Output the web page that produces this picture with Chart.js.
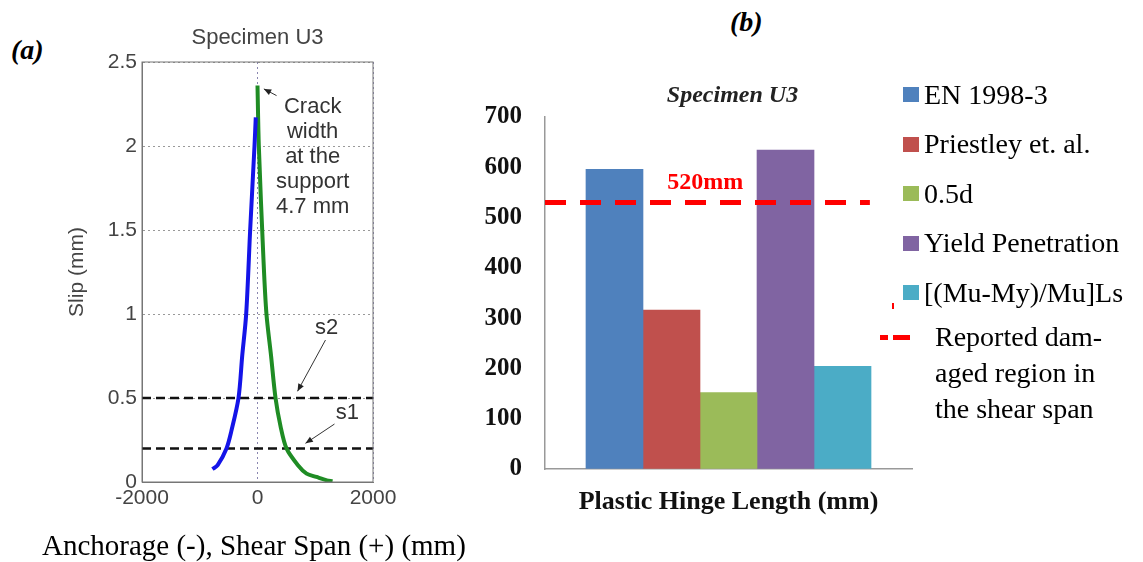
<!DOCTYPE html>
<html>
<head>
<meta charset="utf-8">
<script src="https://cdn.jsdelivr.net/npm/chart.js@4.4.0/dist/chart.umd.min.js"></script>
<style>
  body { margin: 0; width: 1143px; height: 562px; background: #fff; position: relative; overflow: hidden; font-family: "Liberation Serif", serif; }
  #slipChart { position: absolute; left: 0; top: 0; }
  #hingeChart { position: absolute; left: 440px; top: 0; }
  .tag { position: absolute; font: italic bold 28px "Liberation Serif", serif; color: #000; }
  #xlabelA { position: absolute; left: 42px; top: 531px; font: 29px "Liberation Serif", serif; line-height: 29px; color: #000; white-space: nowrap; }
  #legend { position: absolute; left: 903px; top: 70px; font: 28px "Liberation Serif", serif; color: #000; }
  #legend .row { height: 49.5px; display: flex; align-items: center; white-space: nowrap; }
  #legend .sw { width: 16px; height: 15px; margin-right: 5px; }
  #damLegend { position: absolute; left: 935px; top: 319px; font: 28px "Liberation Serif", serif; line-height: 36px; color: #000; white-space: nowrap; }
  .reddash { position: absolute; background: #ff0000; }
</style>
</head>
<body>
<div class="tag" style="left:11px; top:34px;">(a)</div>
<div class="tag" style="left:730px; top:6px;">(b)</div>
<canvas id="slipChart" width="440" height="562"></canvas>
<canvas id="hingeChart" width="480" height="562"></canvas>
<div id="xlabelA">Anchorage (-), Shear Span (+) (mm)</div>
<div id="legend"></div>
<div class="reddash" style="left:892px; top:303px; width:2px; height:6px;"></div>
<div class="reddash" style="left:880px; top:335px; width:8px; height:5px;"></div>
<div class="reddash" style="left:893px; top:335px; width:17px; height:5px;"></div>
<div id="damLegend">Reported dam-<br>aged region in<br>the shear span</div>

<script>
// (a) slip profile along the bar
const posTicks = [-2000, 0, 2000];
const slipTicks = [0, 0.5, 1, 1.5, 2, 2.5];

const anchorX    = [-780, -690, -537, -455, -329, -265, -196, -127, -52, -30];
const anchorSlip = [0.077, 0.10, 0.20, 0.30, 0.50, 0.75, 1.00, 1.50, 2.00, 2.17];

const shearX    = [0, 23, 104, 155, 235, 312, 400, 502, 700, 850, 1020, 1200, 1300];
const shearSlip = [2.36, 2.00, 1.32, 1.00, 0.75, 0.50, 0.33, 0.20, 0.10, 0.05, 0.03, 0.01, 0.005];

const s1Slip = 0.2;
const s2Slip = 0.5;

// (b) plastic hinge lengths
const methods = ['EN 1998-3', 'Priestley et. al.', '0.5d', 'Yield Penetration', '[(Mu-My)/Mu]Ls'];
const hingeLengths = [596, 316, 152, 634, 204];
const lengthTicks = [0, 100, 200, 300, 400, 500, 600, 700];
const damagedRegion = 530;
const damagedLabel = '520mm';

const methodColors = ['#4f81bd', '#c0504d', '#9bbb59', '#8064a2', '#4bacc6'];

const sans = '"Liberation Sans", Arial, sans-serif';
const serif = '"Liberation Serif", "Times New Roman", serif';

function arrow(ctx, x1, y1, x2, y2, head) {
  const a = Math.atan2(y2 - y1, x2 - x1);
  ctx.beginPath();
  ctx.moveTo(x1, y1);
  ctx.lineTo(x2, y2);
  ctx.stroke();
  ctx.beginPath();
  ctx.moveTo(x2, y2);
  ctx.lineTo(x2 - head * Math.cos(a - 0.4), y2 - head * Math.sin(a - 0.4));
  ctx.lineTo(x2 - head * Math.cos(a + 0.4), y2 - head * Math.sin(a + 0.4));
  ctx.closePath();
  ctx.fill();
}

// notes for the slip chart: frame, title, arrows
const slipNotes = {
  id: 'slipNotes',
  afterDraw(chart) {
    const {ctx, chartArea: a, scales: {x, y}} = chart;
    ctx.save();
    ctx.strokeStyle = '#777';
    ctx.lineWidth = 1;
    ctx.strokeRect(a.left, a.top, a.right - a.left, a.bottom - a.top);

    ctx.fillStyle = '#444';
    ctx.font = '22px ' + sans;
    ctx.textAlign = 'center';
    ctx.textBaseline = 'middle';
    ctx.fillText('Specimen U3', (a.left + a.right) / 2, 38);

    ctx.font = '22px ' + sans;
    ctx.fillStyle = '#333';
    const crack = ['Crack', 'width', 'at the', 'support', '4.7 mm'];
    crack.forEach((t, i) => ctx.fillText(t, x.getPixelForValue(955), y.getPixelForValue(2.23) + i * 25));
    ctx.fillText('s2', x.getPixelForValue(1195), y.getPixelForValue(0.92));
    ctx.fillText('s1', x.getPixelForValue(1558), y.getPixelForValue(0.41));

    ctx.strokeStyle = '#333';
    ctx.fillStyle = '#222';
    ctx.lineWidth = 1;
    arrow(ctx, x.getPixelForValue(330), y.getPixelForValue(2.30), x.getPixelForValue(110), y.getPixelForValue(2.34), 8);
    arrow(ctx, x.getPixelForValue(1177), y.getPixelForValue(0.845), x.getPixelForValue(693), y.getPixelForValue(0.54), 8);
    arrow(ctx, x.getPixelForValue(1333), y.getPixelForValue(0.345), x.getPixelForValue(831), y.getPixelForValue(0.23), 8);
    ctx.restore();
  }
};

new Chart(document.getElementById('slipChart'), {
  type: 'scatter',
  data: {
    datasets: [
      {
        label: 'Anchorage',
        data: anchorX.map((v, i) => ({x: v, y: anchorSlip[i]})),
        showLine: true, borderColor: '#1414e8', borderWidth: 4, pointRadius: 0, tension: 0.3
      },
      {
        label: 'Shear span',
        data: shearX.map((v, i) => ({x: v, y: shearSlip[i]})),
        showLine: true, borderColor: '#1f8c24', borderWidth: 4, pointRadius: 0, tension: 0.3
      },
      {
        label: 's2',
        data: [{x: posTicks[0], y: s2Slip}, {x: posTicks[2], y: s2Slip}],
        showLine: true, borderColor: '#111', borderWidth: 2.5, borderDash: [9, 5], pointRadius: 0
      },
      {
        label: 's1',
        data: [{x: posTicks[0], y: s1Slip}, {x: posTicks[2], y: s1Slip}],
        showLine: true, borderColor: '#111', borderWidth: 2.5, borderDash: [9, 5], pointRadius: 0
      }
    ]
  },
  options: {
    responsive: false,
    animation: false,
    layout: { padding: { left: 0, top: 62, right: 67, bottom: 50 } },
    plugins: { legend: { display: false }, tooltip: { enabled: false } },
    scales: {
      x: {
        type: 'linear', min: -2000, max: 2000,
        afterBuildTicks: s => { s.ticks = posTicks.map(v => ({value: v})); },
        afterFit: s => { s.height = 30; },
        ticks: { callback: v => String(v), font: { family: sans, size: 21 }, color: '#444', padding: 4, maxRotation: 0 },
        grid: { color: '#8a86b0', drawTicks: false },
        border: { color: '#777', dash: [2, 3] }
      },
      y: {
        min: 0, max: 2.5,
        afterBuildTicks: s => { s.ticks = slipTicks.map(v => ({value: v})); },
        afterFit: s => { s.width = 142; },
        ticks: { callback: v => String(v), font: { family: sans, size: 21 }, color: '#444', padding: 5 },
        grid: { color: '#999', drawTicks: false },
        border: { color: '#777', dash: [2, 3] },
        title: { display: true, text: 'Slip (mm)', font: { family: sans, size: 21 }, color: '#444', padding: { top: 65, bottom: 0 } }
      }
    }
  },
  plugins: [slipNotes]
});

// notes for the hinge chart: title and the 520mm label
const hingeNotes = {
  id: 'hingeNotes',
  afterDraw(chart) {
    const {ctx, chartArea: a, scales: {x, y}} = chart;
    ctx.save();
    ctx.textAlign = 'center';
    ctx.textBaseline = 'middle';
    ctx.fillStyle = '#222';
    ctx.font = 'italic bold 24px ' + serif;
    ctx.fillText('Specimen U3', (a.left + a.right) / 2 + 4, 96);
    ctx.fillStyle = '#ff0000';
    ctx.font = 'bold 24px ' + serif;
    ctx.fillText(damagedLabel, x.getPixelForValue(2.59), y.getPixelForValue(damagedRegion + 40));
    ctx.restore();
  }
};

// bars sit at positions 1..5 on a linear index axis so they touch each other
new Chart(document.getElementById('hingeChart'), {
  type: 'bar',
  data: {
    datasets: [
      ...methods.map((m, i) => ({
        label: m,
        data: [{x: i + 1, y: hingeLengths[i]}],
        backgroundColor: methodColors[i],
        grouped: false,
        barPercentage: 1,
        categoryPercentage: 1,
        order: 2
      })),
      {
        type: 'line',
        label: 'Reported damaged region in the shear span',
        data: [{x: -0.219, y: damagedRegion}, {x: 5.48, y: damagedRegion}],
        borderColor: '#ff0000', borderWidth: 5, borderDash: [21, 14], pointRadius: 0,
        order: 1
      }
    ]
  },
  options: {
    responsive: false,
    animation: false,
    layout: { padding: { left: 0, top: 117, right: 8, bottom: 43 } },
    plugins: { legend: { display: false }, tooltip: { enabled: false } },
    scales: {
      x: {
        type: 'linear', min: -0.219, max: 6.219, offset: false,
        afterFit: s => { s.height = 50; },
        ticks: { display: false },
        grid: { drawOnChartArea: false, drawTicks: false },
        border: { color: '#999', width: 1.5 },
        title: { display: true, text: 'Plastic Hinge Length (mm)', font: { family: serif, size: 26, weight: 'bold' }, color: '#111', padding: { top: 0, bottom: 1 } }
      },
      y: {
        min: 0, max: 700,
        afterBuildTicks: s => { s.ticks = lengthTicks.map(v => ({value: v})); },
        afterFit: s => { s.width = 105; },
        ticks: { callback: v => String(v), font: { family: serif, size: 25, weight: 'bold' }, color: '#111', padding: 23 },
        grid: { drawOnChartArea: false, drawTicks: false },
        border: { color: '#999', width: 1.5 }
      }
    }
  },
  plugins: [hingeNotes]
});

// legend for (b)
document.getElementById('legend').innerHTML = methods.map((m, i) => `
  <div class="row"><span class="sw" style="background:${methodColors[i]}"></span>${m}</div>
`).join('');
</script>
</body>
</html>
